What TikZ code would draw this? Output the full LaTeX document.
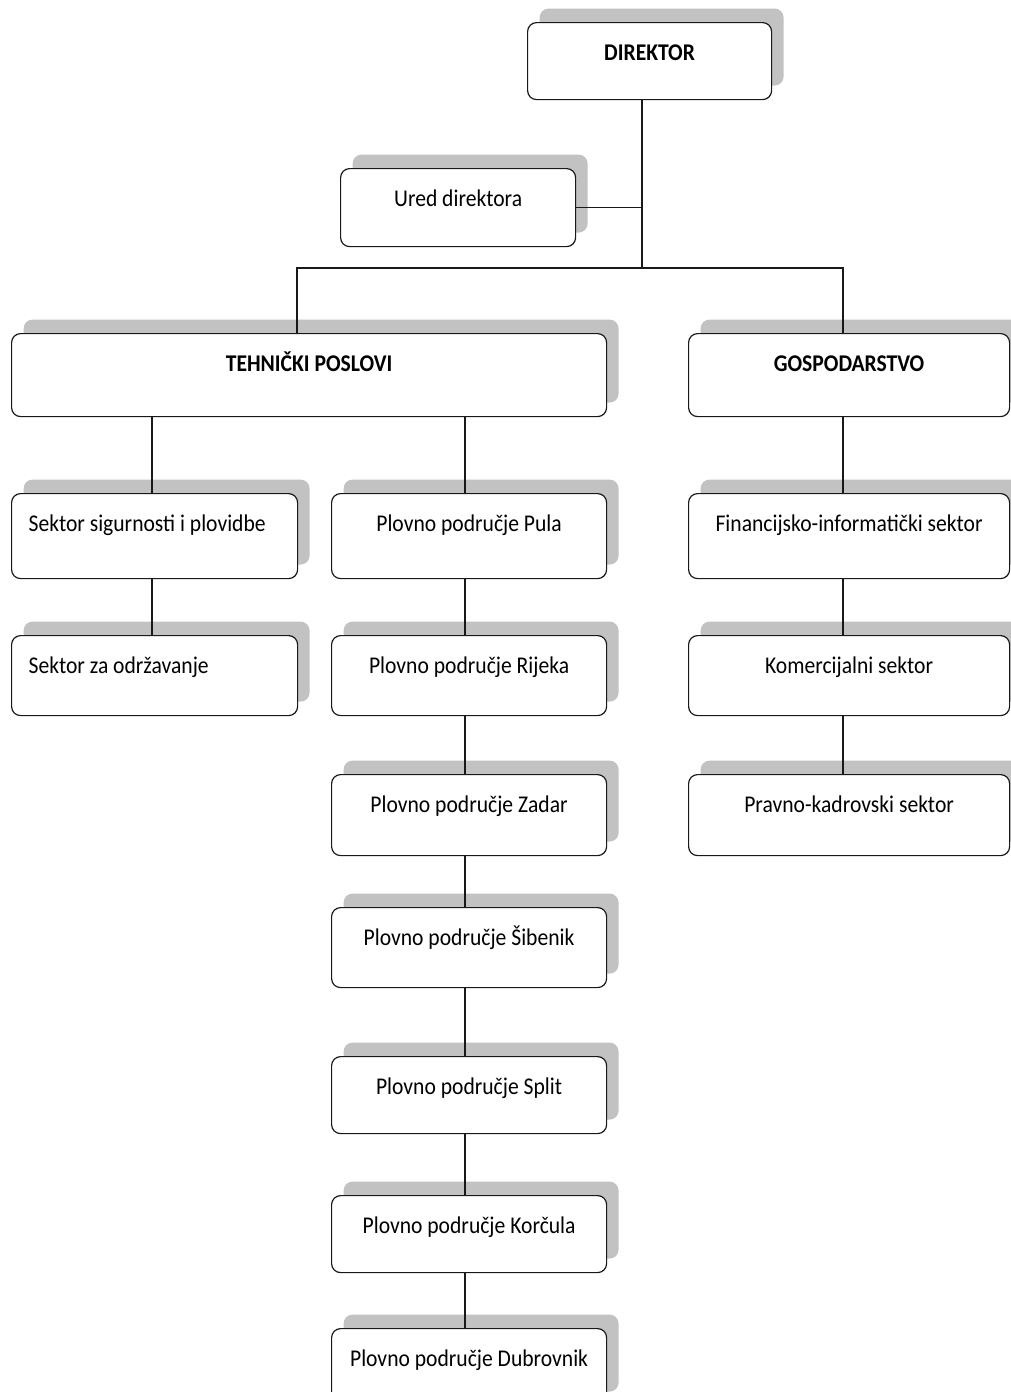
\documentclass[tikz,border=0pt]{standalone}
\usepackage{fontspec}
\setmainfont{Carlito}[FakeStretch=0.9]
\usetikzlibrary{shadows}
\begin{document}
\begin{tikzpicture}[x=1pt,y=-1pt,
  box/.style={draw=black!90, line width=1.2pt, rounded corners=9pt, fill=white,
    general shadow={fill=black!24, shadow xshift=12pt, shadow yshift=14pt},
    inner sep=0pt, text height=37.5pt, anchor=north west,
    font=\fontsize{24}{26}\selectfont, align=center},
  lbox/.style={box, inner xsep=17pt, align=flush left},
  bold/.style={font=\fontsize{24}{26}\selectfont\bfseries},
  conn/.style={draw=black!90, line width=1.1pt}
]
\useasboundingbox (0,0) rectangle (1011,1392);
\clip (0,0) rectangle (1011,1392);

% top level
\node[box, bold, minimum width=244pt, text depth=39.5pt] (dir) at (527,22) {DIREKTOR};
\node[box, minimum width=235pt, text depth=40.5pt] (ured) at (340,168) {Ured direktora};
\node[box, bold, minimum width=595pt, text depth=45.5pt] (teh) at (11,333) {TEHNIČKI POSLOVI};
\node[box, bold, minimum width=321pt, text depth=45.5pt] (gosp) at (688,333) {GOSPODARSTVO};

% left column
\node[lbox, text width=252pt, text depth=47.5pt] (ssp) at (11,493) {Sektor sigurnosti i plovidbe};
\node[lbox, text width=252pt, text depth=42.5pt] (sod) at (11,635) {Sektor za održavanje};

% middle column
\node[box, minimum width=275pt, text depth=47.5pt] (pula) at (331,493) {Plovno područje Pula};
\node[box, minimum width=275pt, text depth=42.5pt] (rij) at (331,635) {Plovno područje Rijeka};
\node[box, minimum width=275pt, text depth=43.5pt] (zad) at (331,774) {Plovno područje Zadar};
\node[box, minimum width=275pt, text depth=42.5pt] (sib) at (331,907) {Plovno područje Šibenik};
\node[box, minimum width=275pt, text depth=39.5pt] (spl) at (331,1056) {Plovno područje Split};
\node[box, minimum width=275pt, text depth=39.5pt] (kor) at (331,1195) {Plovno područje Korčula};
\node[box, minimum width=275pt, text depth=39.5pt] (dub) at (331,1328) {Plovno područje Dubrovnik};

% right column
\node[box, minimum width=321pt, text depth=47.5pt] (fin) at (688,493) {Financijsko-informatički sektor};
\node[box, minimum width=321pt, text depth=42.5pt] (kom) at (688,635) {Komercijalni sektor};
\node[box, minimum width=321pt, text depth=43.5pt] (prav) at (688,774) {Pravno-kadrovski sektor};

% junctions
\coordinate (j1) at (642,268);
\coordinate (jl) at (297,268);
\coordinate (jr) at (843,268);
\coordinate (cl) at (152,0);
\coordinate (cm) at (465,0);

% connectors
\draw[conn] (dir.south -| j1) -- (j1);
\draw[conn] (ured.east) -- (ured.east -| j1);
\draw[conn] (teh.north -| jl) -- (jl) -- (jr) -- (gosp.north -| jr);
\draw[conn] (teh.south -| cl) -- (ssp.north -| cl);
\draw[conn] (ssp.south -| cl) -- (sod.north -| cl);
\draw[conn] (teh.south -| cm) -- (pula.north -| cm);
\draw[conn] (pula.south -| cm) -- (rij.north -| cm);
\draw[conn] (rij.south -| cm) -- (zad.north -| cm);
\draw[conn] (zad.south -| cm) -- (sib.north -| cm);
\draw[conn] (sib.south -| cm) -- (spl.north -| cm);
\draw[conn] (spl.south -| cm) -- (kor.north -| cm);
\draw[conn] (kor.south -| cm) -- (dub.north -| cm);
\draw[conn] (gosp.south -| jr) -- (fin.north -| jr);
\draw[conn] (fin.south -| jr) -- (kom.north -| jr);
\draw[conn] (kom.south -| jr) -- (prav.north -| jr);
\end{tikzpicture}
\end{document}
